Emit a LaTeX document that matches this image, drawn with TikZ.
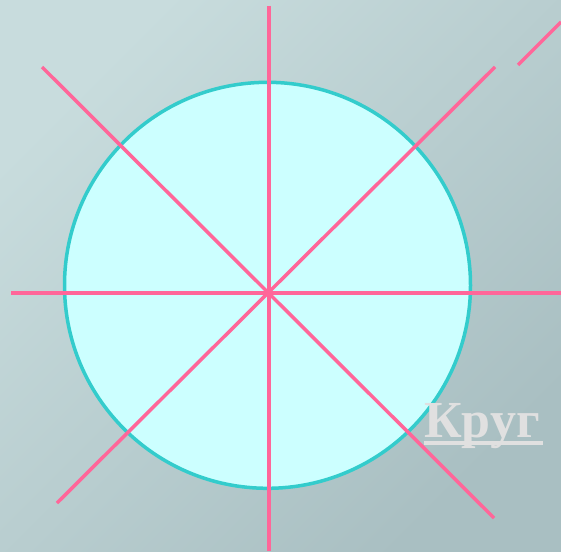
\documentclass[tikz,border=0pt]{standalone}
\usepackage{fontspec}
\newfontfamily\rusfont{Liberation Serif}
\definecolor{bgA}{HTML}{C8DCDD}
\definecolor{bgB}{HTML}{A9BFC2}
\definecolor{circfill}{HTML}{CCFFFF}
\definecolor{circline}{HTML}{33CCCC}
\definecolor{axis}{HTML}{FF6699}
\definecolor{labelc}{HTML}{E0E0E0}
\begin{document}
\begin{tikzpicture}[x=1pt,y=-1pt,
  axisline/.style={draw=axis,line width=3.5pt},
  labeltext/.style={font=\rusfont\bfseries\fontsize{52}{56}\selectfont,text=labelc,inner sep=0pt}]
\useasboundingbox (0,0) rectangle (561,551);
\shade[top color=bgA,bottom color=bgB,shading angle=45] (0,0) rectangle (561,551);
\node[circle,draw=circline,fill=circfill,line width=3.5pt,minimum size=406pt,inner sep=0pt] (c) at (267.5,285.3) {};
\coordinate (v1) at (269,6);
\coordinate (v2) at (269,551);
\coordinate (h1) at (11,293);
\coordinate (h2) at (561,293);
\coordinate (d1) at (42,67);
\coordinate (d2) at (494,518);
\coordinate (e1) at (57,503);
\coordinate (e2) at (495,67);
\coordinate (s1) at (518,65);
\coordinate (s2) at (561,22);
\draw[axisline] (v1) -- (v2);
\draw[axisline] (h1) -- (h2);
\draw[axisline] (d1) -- (d2);
\draw[axisline] (e1) -- (e2);
\draw[axisline] (s1) -- (s2);
\node[labeltext,anchor=base west] (k) at (424,437) {Круг};
\draw[labelc,line width=4pt] ([yshift=-6pt]k.base west) -- ([yshift=-6pt,xshift=3pt]k.base east);
\end{tikzpicture}
\end{document}
